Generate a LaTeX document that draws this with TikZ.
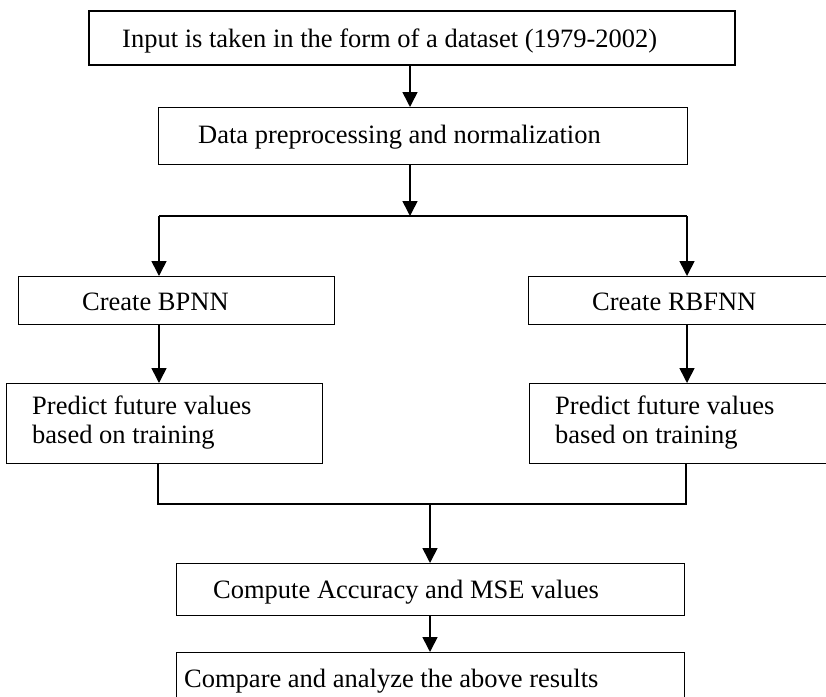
\documentclass[tikz,border=0pt]{standalone}
\usepackage{fontspec}
\setmainfont{Liberation Serif}
\usetikzlibrary{arrows.meta}
\begin{document}
\begin{tikzpicture}[x=1pt,y=-1pt,
  box/.style={draw=black,line width=1.3pt,rectangle,inner sep=0pt,anchor=north west},
  lbl/.style={anchor=base west,inner sep=0pt,font=\fontsize{26.5}{30}\selectfont},
  flow/.style={line width=1.6pt,-{Triangle[width=15pt,length=15pt]}},
  link/.style={line width=1.3pt}]
\useasboundingbox (0,0) rectangle (826,696);
\clip (0,0) rectangle (826,696);
\fill[white] (0,0) rectangle (826,696);

% boxes (corner at top-left, sizes in px)
\node[box,line width=1.7pt,minimum width=646pt,minimum height=54pt] (b1) at (88,10) {};
\node[box,minimum width=529pt,minimum height=57pt] (b2) at (158,107) {};
\node[box,minimum width=316pt,minimum height=48pt] (b3) at (18,276) {};
\node[box,minimum width=316pt,minimum height=48pt] (b4) at (528,276) {};
\node[box,minimum width=316pt,minimum height=80pt] (b5) at (6,383) {};
\node[box,minimum width=316pt,minimum height=80pt] (b6) at (529,383) {};
\node[box,minimum width=508pt,minimum height=52pt] (b7) at (176,563) {};
\node[box,minimum width=508pt,minimum height=70pt] (b8) at (176,652) {};

% labels
\node[lbl] (t1) at (122,47) {Input is taken in the form of a dataset (1979-2002)};
\node[lbl] (t2) at (198,143) {Data preprocessing and normalization};
\node[lbl] (t3) at (82,310) {Create BPNN};
\node[lbl] (t4) at (592,310) {Create RBFNN};
\node[lbl] (t5a) at (32,414) {Predict future values};
\node[lbl] (t5b) at (32,443) {based on training};
\node[lbl] (t6a) at (555,414) {Predict future values};
\node[lbl] (t6b) at (555,443) {based on training};
\node[lbl] (t7) at (213,598) {Compute Accuracy and MSE values};
\node[lbl] (t8) at (184,687) {Compare and analyze the above results};

% junction points
\coordinate (split) at (410,216);
\coordinate (lj) at (159,216);
\coordinate (rj) at (687,216);
\coordinate (lm) at (158,504);
\coordinate (rm) at (686,504);
\coordinate (mm) at (430,504);

% connectors
\draw[flow] (b1.south -| split) -- (b2.north -| split);
\draw[flow] (b2.south -| split) -- (split);
\draw[link] (lj) -- (rj);
\draw[flow] (lj) -- (b3.north -| lj);
\draw[flow] (rj) -- (b4.north -| rj);
\draw[flow] (b3.south -| lj) -- (b5.north -| lj);
\draw[flow] (b4.south -| rj) -- (b6.north -| rj);
\draw[link] (b5.south -| lm) -- (lm) -- (rm) -- (b6.south -| rm);
\draw[flow] (mm) -- (b7.north -| mm);
\draw[flow] (b7.south -| mm) -- (b8.north -| mm);
\end{tikzpicture}
\end{document}
